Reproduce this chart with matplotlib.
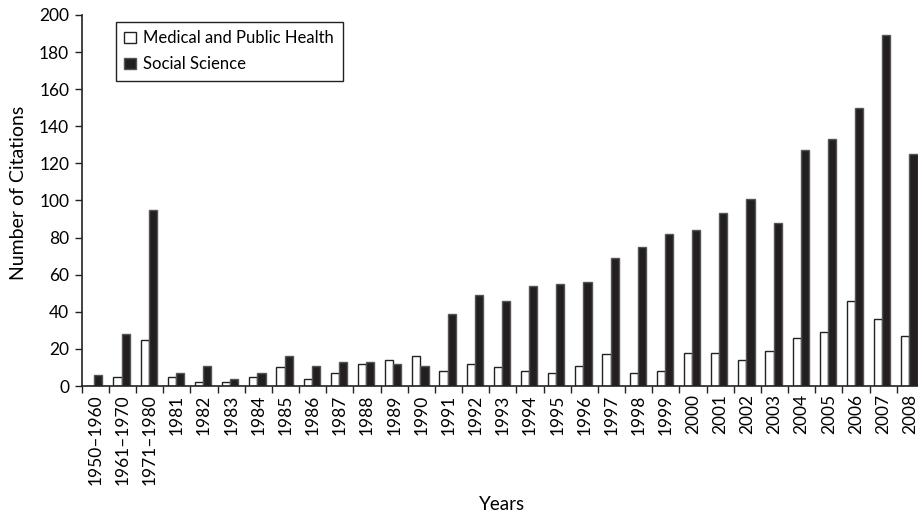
import numpy as np
import matplotlib
import matplotlib.pyplot as plt
from matplotlib.ticker import FixedLocator

matplotlib.use('Agg')

plt.rcParams['font.family'] = ['Lato', 'DejaVu Sans']

# data
years = ['1950\u20131960', '1961\u20131970', '1971\u20131980'] + [str(y) for y in range(1981, 2009)]
medical = [0, 5, 25, 5, 2, 2, 5, 10, 4, 7, 12, 14, 16, 8, 12, 10, 8, 7, 11, 17,
           7, 8, 18, 18, 14, 19, 26, 29, 46, 36, 27]
social = [6, 28, 95, 7, 11, 4, 7, 16, 11, 13, 13, 12, 11, 39, 49, 46, 54, 55, 56, 69,
          75, 82, 84, 93, 101, 88, 127, 133, 150, 189, 125]

fig = plt.figure(figsize=(9.18, 5.14), dpi=100)
ax = fig.add_axes([0.089, 0.249, 0.911, 0.722])

x = np.arange(len(years))
w = 0.3
off = -0.035
ax.bar(x + off - w / 2, medical, w, color='white', edgecolor='#222222',
       linewidth=1.0, label='Medical and Public Health')
ax.bar(x + off + w / 2, social, w, color='#231f20', edgecolor='#555555',
       linewidth=1.0, label='Social Science')

ax.set_xlim(-0.5, 30.28)
ax.set_ylim(0, 200)
ax.set_yticks(range(0, 201, 20))

# labels at category centres, tick marks at category boundaries
ax.set_xticks(x)
ax.set_xticklabels(years, rotation=90, fontsize=12.5)
ax.tick_params(axis='x', which='major', length=0, pad=6)
ax.xaxis.set_minor_locator(FixedLocator(np.arange(-0.5, 31, 1.0)))
ax.tick_params(axis='x', which='minor', length=5, width=1, color='#222222')
ax.tick_params(axis='y', length=5, width=1, color='#222222', labelsize=12.5, pad=4)

for side in ['top', 'right']:
    ax.spines[side].set_visible(False)
for side in ['left', 'bottom']:
    ax.spines[side].set_color('#222222')
    ax.spines[side].set_linewidth(1.2)

ax.set_ylabel('Number of Citations', fontsize=14)
ax.yaxis.set_label_coords(-0.066, 0.52)
ax.set_xlabel('Years', fontsize=13.5)
ax.xaxis.set_label_coords(0.503, -0.297)

leg = ax.legend(loc='upper left', bbox_to_anchor=(0.041, 0.981), fontsize=12,
                handlelength=0.7, handleheight=0.7, handletextpad=0.45,
                fancybox=False, edgecolor='#222222', framealpha=1,
                borderpad=0.5, labelspacing=0.6, borderaxespad=0)
leg.get_frame().set_linewidth(1.0)

fig.savefig('out.png', dpi=100)
